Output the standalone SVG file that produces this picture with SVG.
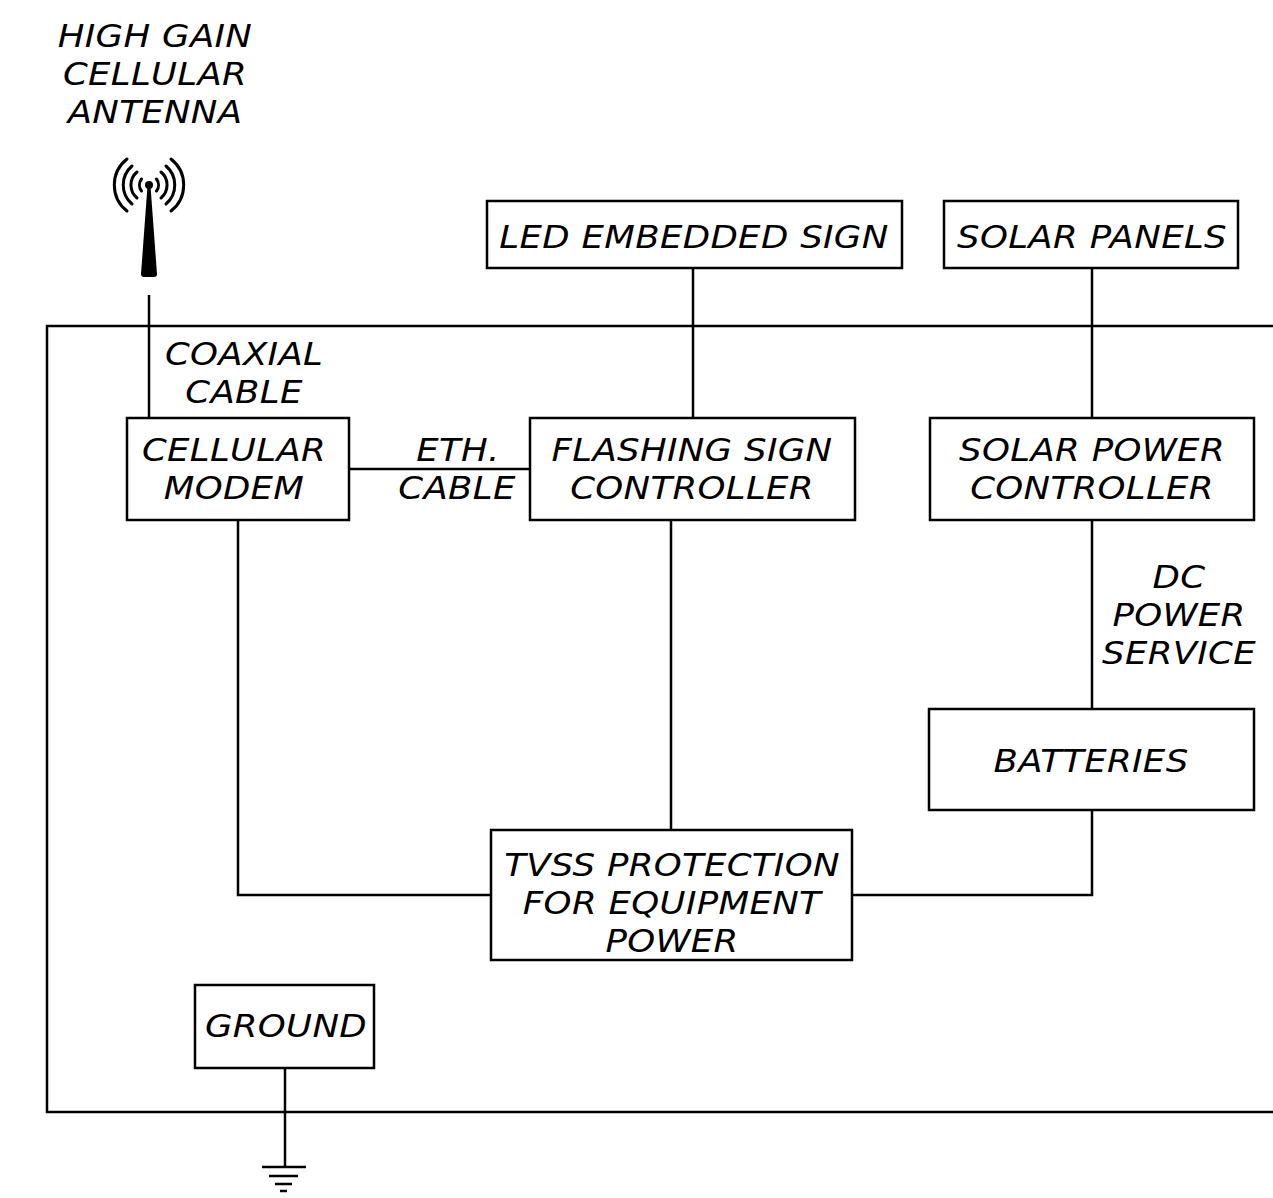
<svg xmlns="http://www.w3.org/2000/svg" width="1273" height="1198" viewBox="0 0 1273 1198">
<style>
.box{fill:#fff;stroke:#000;stroke-width:2.5}
.ln{fill:none;stroke:#000;stroke-width:2.5}
.arc{fill:none;stroke:#000;stroke-width:3;stroke-linecap:round}
text{font-family:"DejaVu Sans",sans-serif;font-style:italic;font-size:32px;letter-spacing:0.3px;text-anchor:middle;fill:#000}
</style>
<rect width="1273" height="1198" fill="#fff"/>
<g id="connectors">
<path class="ln" d="M1273,326 H47 V1112 H1273"/>
<path class="ln" d="M149,295 V418"/>
<path class="ln" d="M349,469 H530"/>
<path class="ln" d="M693,268 V418"/>
<path class="ln" d="M1092,268 V418"/>
<path class="ln" d="M1092,520 V709"/>
<path class="ln" d="M1092,810 V895 H852"/>
<path class="ln" d="M671,520 V830"/>
<path class="ln" d="M238,520 V895 H491"/>
<path class="ln" d="M285,1068 V1167"/>
<path class="ln" d="M262,1167 H306 M269,1176 H298 M275,1184 H292 M280,1191 H287"/>
<text transform="matrix(1.11 0 0 1 244 365)">COAXIAL</text>
<text transform="matrix(1.11 0 0 1 244 403)">CABLE</text>
<text transform="matrix(1.11 0 0 1 458 461)">ETH.</text>
<text transform="matrix(1.11 0 0 1 457 499)">CABLE</text>
<text transform="matrix(1.11 0 0 1 1179 588)">DC</text>
<text transform="matrix(1.11 0 0 1 1179 626)">POWER</text>
<text transform="matrix(1.11 0 0 1 1179 664)">SERVICE</text>
</g>
<g id="antenna">
<text transform="matrix(1.11 0 0 1 155 47)">HIGH GAIN</text>
<text transform="matrix(1.11 0 0 1 155 85)">CELLULAR</text>
<text transform="matrix(1.11 0 0 1 155 123)">ANTENNA</text>
<circle cx="149" cy="185" r="4" fill="#000"/>
<path d="M147.5,186 L150.5,186 L157,274 Q157,277 154,277 L144,277 Q141,277 141,274 Z" fill="#000"/>
<path class="arc" d="M141.5,179 A10,10 0 0 0 141.5,191 M156.5,179 A10,10 0 0 1 156.5,191"/>
<path class="arc" d="M137,172 A17,17 0 0 0 137,198 M161,172 A17,17 0 0 1 161,198"/>
<path class="arc" d="M132,166 A25,25 0 0 0 132,204 M166,166 A25,25 0 0 1 166,204"/>
<path class="arc" d="M127,159 A33,33 0 0 0 127,211 M171,159 A33,33 0 0 1 171,211"/>
</g>
<g id="led-sign"><rect class="box" x="487" y="201" width="415" height="67"/><text transform="matrix(1.11 0 0 1 694 248)">LED EMBEDDED SIGN</text></g>
<g id="solar-panels"><rect class="box" x="944" y="201" width="294" height="67"/><text transform="matrix(1.11 0 0 1 1092 248)">SOLAR PANELS</text></g>
<g id="cellular-modem"><rect class="box" x="127" y="418" width="222" height="102"/><text transform="matrix(1.11 0 0 1 234 461)">CELLULAR</text><text transform="matrix(1.11 0 0 1 234 499)">MODEM</text></g>
<g id="flashing-sign-controller"><rect class="box" x="530" y="418" width="325" height="102"/><text transform="matrix(1.11 0 0 1 692 461)">FLASHING SIGN</text><text transform="matrix(1.11 0 0 1 692 499)">CONTROLLER</text></g>
<g id="solar-power-controller"><rect class="box" x="930" y="418" width="324" height="102"/><text transform="matrix(1.11 0 0 1 1092 461)">SOLAR POWER</text><text transform="matrix(1.11 0 0 1 1092 499)">CONTROLLER</text></g>
<g id="batteries"><rect class="box" x="929" y="709" width="325" height="101"/><text transform="matrix(1.11 0 0 1 1091 772)">BATTERIES</text></g>
<g id="tvss"><rect class="box" x="491" y="830" width="361" height="130"/><text transform="matrix(1.11 0 0 1 672 876)">TVSS PROTECTION</text><text transform="matrix(1.11 0 0 1 672 914)">FOR EQUIPMENT</text><text transform="matrix(1.11 0 0 1 672 952)">POWER</text></g>
<g id="ground"><rect class="box" x="195" y="985" width="179" height="83"/><text transform="matrix(1.11 0 0 1 286 1037)">GROUND</text></g>
</svg>
